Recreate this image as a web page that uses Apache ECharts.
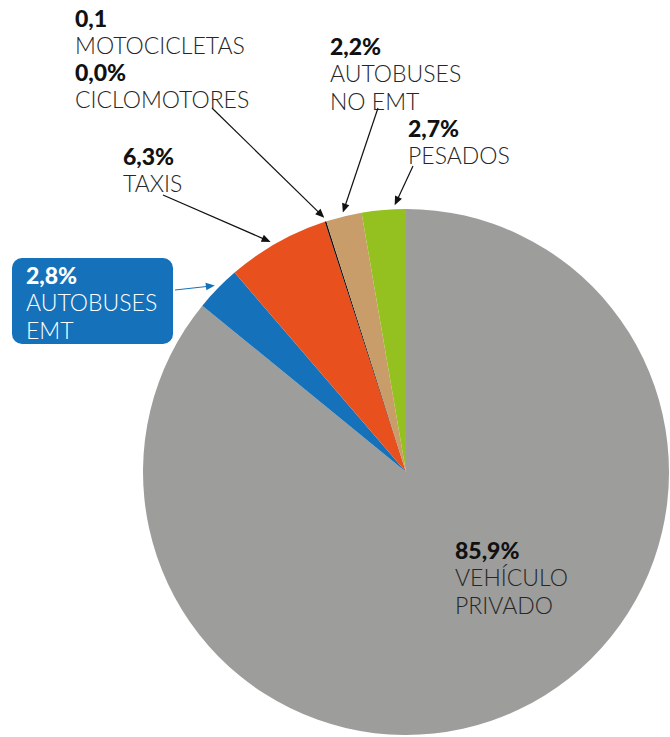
<!DOCTYPE html>
<html>
<head>
<meta charset="utf-8">
<script src="https://cdn.jsdelivr.net/npm/echarts@6/dist/echarts.min.js"></script>
<style>
html,body{margin:0;padding:0;background:#fff;}
#chart{width:670px;height:737px;}
</style>
</head>
<body>
<div id="chart"></div>
<script>
// ---- data ----
var categories = ['VEHÍCULO\nPRIVADO', 'AUTOBUSES\nEMT', 'TAXIS', 'MOTOCICLETAS', 'CICLOMOTORES', 'AUTOBUSES\nNO EMT', 'PESADOS'];
var values = [85.9, 2.8, 6.3, 0.1, 0.0, 2.2, 2.7];
var suffixes = ['%', '%', '%', '', '%', '%', '%'];
var colors = ['#9d9d9c', '#1571b9', '#e8501d', '#111111', '#111111', '#c89d6a', '#94c11f'];

// ---- layout (positions only) ----
var CX = 406, CY = 472, R = 263;
var labelPos = [[455, 537], [12, 258], [123, 143], [75, 5], [75, 59], [330, 33], [408, 115]];
// arrows: [dataIndex, startX, startY, fraction within slice, color, width]
var arrows = [
  [3, 212, 108, 0.5, '#111', 1.2],
  [5, 378, 108, 0.5, '#111', 1.2],
  [6, 413, 166, 0.75, '#111', 1.2],
  [2, 163, 195, 0.45, '#111', 1.2],
  [1, 175, 290, 0.5, '#1571b9', 1]
];

var total = values.reduce(function (a, b) { return a + b; }, 0);
function edgePoint(idx, frac, extra) {
  var cum = 0;
  for (var i = 0; i < idx; i++) cum += values[i];
  cum += values[idx] * frac;
  var th = cum / total * Math.PI * 2;
  return [CX + (R + extra) * Math.sin(th), CY - (R + extra) * Math.cos(th)];
}

var graphics = [];
arrows.forEach(function (a) {
  var end = edgePoint(a[0], a[3], 4);
  var sx = a[1], sy = a[2];
  var dx = end[0] - sx, dy = end[1] - sy, len = Math.sqrt(dx * dx + dy * dy);
  var ux = dx / len, uy = dy / len;
  var hl = 9, hw = 3.8;
  var bx = end[0] - ux * hl, by = end[1] - uy * hl;
  graphics.push({
    type: 'line', z: 100,
    shape: { x1: sx, y1: sy, x2: bx + ux * 2, y2: by + uy * 2 },
    style: { stroke: a[4], lineWidth: a[5] }
  });
  graphics.push({
    type: 'polygon', z: 100,
    shape: { points: [[end[0], end[1]], [bx - uy * hw, by + ux * hw], [bx + uy * hw, by - ux * hw]] },
    style: { fill: a[4] }
  });
});

var rich = {
  b: { fontFamily: 'Lato', fontWeight: 900, fontSize: 23, lineHeight: 26, color: '#111' },
  t: { fontFamily: 'Lato', fontWeight: 300, fontSize: 23, lineHeight: 28, color: '#262626' },
  bw: { fontFamily: 'Lato', fontWeight: 900, fontSize: 23, lineHeight: 26, color: '#fff' },
  tw: { fontFamily: 'Lato', fontWeight: 300, fontSize: 23, lineHeight: 28, color: '#fff' }
};

var seriesData = categories.map(function (c, i) {
  var d = { name: c, value: values[i], itemStyle: { color: colors[i] } };
  if (i === 1) {
    d.label = { backgroundColor: '#1571b9', borderRadius: 10, padding: [4, 14, 0, 14], width: 133 };
  }
  return d;
});

var chart = echarts.init(document.getElementById('chart'), null, { renderer: 'svg' });
chart.setOption({
  animation: false,
  series: [{
    type: 'pie',
    center: [CX, CY],
    radius: R,
    startAngle: 90,
    clockwise: true,
    avoidLabelOverlap: false,
    stillShowZeroSum: true,
    itemStyle: { borderWidth: 0 },
    emphasis: { disabled: true },
    labelLine: { show: false },
    label: {
      show: true,
      position: 'outside',
      align: 'left',
      formatter: function (p) {
        var i = p.dataIndex;
        var w = i === 1;
        var num = p.value.toFixed(1).replace('.', ',') + suffixes[i];
        var s = '{' + (w ? 'bw' : 'b') + '|' + num + '}';
        p.name.split('\n').forEach(function (ln) {
          s += '\n{' + (w ? 'tw' : 't') + '|' + ln + '}';
        });
        return s;
      },
      rich: rich
    },
    labelLayout: function (p) {
      var pos = labelPos[p.dataIndex];
      return { x: pos[0], y: pos[1], align: 'left', verticalAlign: 'top', hideOverlap: false, moveOverlap: null };
    },
    data: seriesData
  }],
  graphic: graphics
});
</script>
</body>
</html>
